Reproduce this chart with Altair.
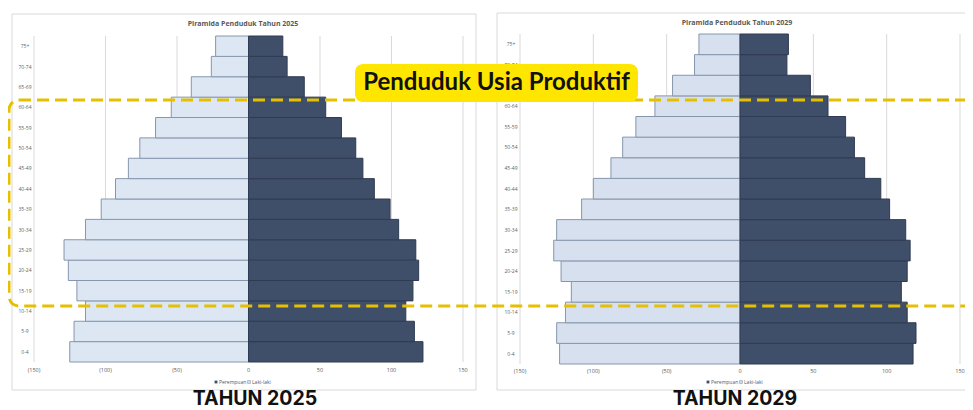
import altair as alt
import pandas as pd

ages = ["0-4", "5-9", "10-14", "15-19", "20-24", "25-29", "30-34", "35-39",
        "40-44", "45-49", "50-54", "55-59", "60-64", "65-69", "70-74", "75+"]
female_2025 = [125, 122, 114, 120, 126, 129, 114, 103, 93, 84, 76, 65, 54, 40, 26, 23]
male_2025 = [122, 116, 110, 115, 119, 117, 105, 99, 88, 80, 75, 65, 54, 39, 27, 24]
female_2029 = [123, 125, 119, 115, 122, 127, 125, 108, 100, 88, 80, 71, 58, 46, 31, 28]
male_2029 = [118, 120, 114, 110, 114, 116, 113, 102, 96, 85, 78, 72, 60, 48, 32, 33]
tick_values = [-150, -100, -50, 0, 50, 100, 150]
tick_labels = ["(150)", "(100)", "(50)", "0", "50", "100", "150"]
legend_labels = ["Perempuan", "Laki-laki"]
panel_titles = ["Piramida Penduduk Tahun 2025", "Piramida Penduduk Tahun 2029"]
bottom_titles = ["TAHUN 2025", "TAHUN 2029"]
highlight_label = "Penduduk Usia Produktif"

age_order = list(reversed(ages))
GRAY = "#595959"


def panel(female, male, xr, yr, ylab_x, tick_y, frame, title_xy, legend_x, legend_y,
          female_fill, bottom_title, bottom_x):
    xs = alt.Scale(domain=[-150, 150], range=xr, nice=False, zero=False)
    ys = alt.Scale(domain=age_order, range=yr, paddingInner=0, paddingOuter=0)
    df_f = pd.DataFrame({"age": ages, "start": [-v for v in female], "end": [0] * len(ages)})
    df_m = pd.DataFrame({"age": ages, "start": [0] * len(ages), "end": male})
    df_t = pd.DataFrame({"value": tick_values, "label": tick_labels})
    df_a = pd.DataFrame({"age": ages})

    layers = []
    layers.append(
        alt.Chart(pd.DataFrame({"k": [0]})).mark_rect(fill="white", stroke="#d9d9d9", strokeWidth=1)
        .encode(x=alt.value(frame[0]), x2=alt.value(frame[2]), y=alt.value(frame[1]), y2=alt.value(frame[3]))
    )
    layers.append(
        alt.Chart(df_t).mark_rule(color="#d9d9d9", strokeWidth=1)
        .encode(x=alt.X("value:Q", scale=xs, axis=None), y=alt.value(yr[0]), y2=alt.value(yr[1]))
    )
    layers.append(
        alt.Chart(df_f).mark_bar(fill=female_fill, stroke="#8696ad", strokeWidth=1)
        .encode(x=alt.X("start:Q", scale=xs, axis=None), x2="end:Q",
                y=alt.Y("age:N", scale=ys, axis=None))
    )
    layers.append(
        alt.Chart(df_m).mark_bar(fill="#3f4e69", stroke="#2f3b52", strokeWidth=1)
        .encode(x=alt.X("start:Q", scale=xs, axis=None), x2="end:Q",
                y=alt.Y("age:N", scale=ys, axis=None))
    )
    layers.append(
        alt.Chart(df_t).mark_text(fontSize=5.5, color=GRAY, font="Open Sans")
        .encode(x=alt.X("value:Q", scale=xs, axis=None), y=alt.value(tick_y), text="label:N")
    )
    layers.append(
        alt.Chart(df_a).mark_text(fontSize=5, color="#5f5f5f", font="Open Sans")
        .encode(x=alt.value(ylab_x), y=alt.Y("age:N", scale=ys, axis=None), text="age:N")
    )
    layers.append(
        alt.Chart(pd.DataFrame({"t": [title_xy[2]]}))
        .mark_text(fontSize=7, color=GRAY, font="Open Sans", fontWeight="bold")
        .encode(x=alt.value(title_xy[0]), y=alt.value(title_xy[1]), text="t:N")
    )
    # legend
    layers.append(
        alt.Chart(pd.DataFrame({"k": [0]})).mark_square(size=8, fill="#3f4e69", opacity=1)
        .encode(x=alt.value(legend_x), y=alt.value(legend_y))
    )
    layers.append(
        alt.Chart(pd.DataFrame({"k": [0]})).mark_square(size=8, fill=female_fill, stroke="#8696ad",
                                                       strokeWidth=0.6, opacity=1)
        .encode(x=alt.value(legend_x + 33), y=alt.value(legend_y))
    )
    layers.append(
        alt.Chart(pd.DataFrame({"t": [legend_labels[0]]}))
        .mark_text(fontSize=5, color=GRAY, align="left", font="Open Sans")
        .encode(x=alt.value(legend_x + 3), y=alt.value(legend_y), text="t:N")
    )
    layers.append(
        alt.Chart(pd.DataFrame({"t": [legend_labels[1]]}))
        .mark_text(fontSize=5, color=GRAY, align="left", font="Open Sans")
        .encode(x=alt.value(legend_x + 36), y=alt.value(legend_y), text="t:N")
    )
    layers.append(
        alt.Chart(pd.DataFrame({"t": [bottom_title]}))
        .mark_text(fontSize=19.5, color="#111111", font="Inter", fontWeight="bold", baseline="alphabetic")
        .encode(x=alt.value(bottom_x), y=alt.value(397), text="t:N")
    )
    return layers


left = panel(female_2025, male_2025, [26, 455], [28, 354], 17, 362, (4, 6, 468, 382),
             (235, 16, panel_titles[0]), 208, 374, "#dce7f3", bottom_titles[0], 247)
right = panel(female_2029, male_2029, [512, 952], [26, 356], 503, 363, (489, 5, 964, 382),
              (729, 15, panel_titles[1]), 700, 374, "#d7e0ee", bottom_titles[1], 727)

overlay = [
    alt.Chart(pd.DataFrame({"k": [0]})).mark_rect(
        fillOpacity=0, stroke="#e5bf00", strokeWidth=3, strokeDash=[12, 6], cornerRadius=10)
    .encode(x=alt.value(1), x2=alt.value(1100), y=alt.value(92), y2=alt.value(298)),
    alt.Chart(pd.DataFrame({"k": [0]})).mark_rect(fill="#ffe600", cornerRadius=8)
    .encode(x=alt.value(347), x2=alt.value(630), y=alt.value(56), y2=alt.value(94)),
    alt.Chart(pd.DataFrame({"t": [highlight_label]}))
    .mark_text(fontSize=24, color="#111111", font="Lato", fontWeight="bold", baseline="middle")
    .encode(x=alt.value(488.5), y=alt.value(75), text="t:N"),
]

chart = (
    alt.layer(*left, *right, *overlay)
    .resolve_scale(x="independent", y="independent")
    .properties(width=957, height=402, autosize=alt.AutoSizeParams(type="none"), padding=0,
                background="white")
    .configure_view(stroke=None)
)

chart.save("out.html", embed_options={"renderer": "svg", "actions": False})
